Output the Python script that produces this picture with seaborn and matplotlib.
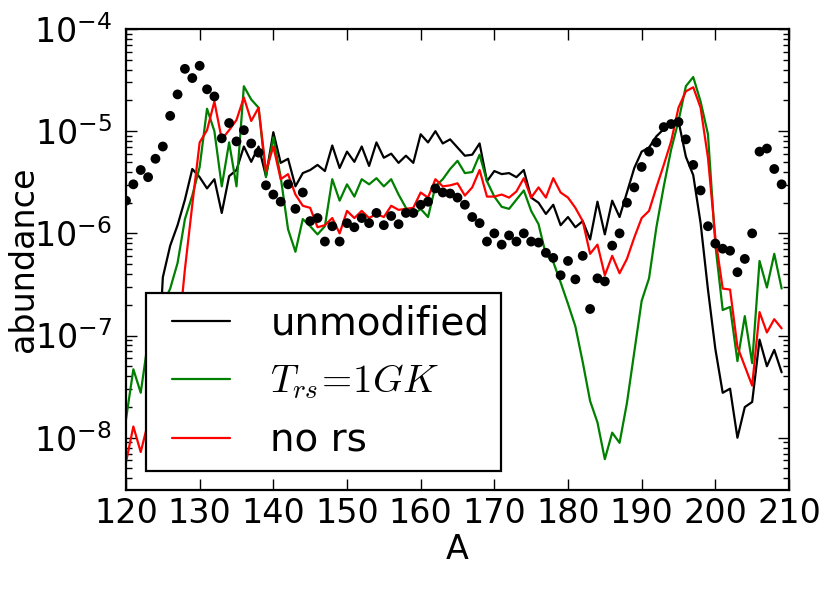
import numpy as np
import pandas as pd
import seaborn as sns
import matplotlib
matplotlib.use("Agg")
import matplotlib.pyplot as plt

# mass number A on the x axis
mass_number = np.arange(120, 210)

# log10 of the abundances (A = 120 ... 209)
log_solar = [
    -5.68, -5.52, -5.38, -5.45, -5.27, -5.15, -4.85, -4.64, -4.39, -4.48,
    -4.36, -4.59, -4.66, -5.07, -4.92, -5.10, -4.99, -5.12, -5.21, -5.53,
    -5.62, -5.69, -5.52, -5.76, -5.60, -5.88, -5.85, -6.08, -5.93, -6.08,
    -5.90, -5.94, -5.85, -5.90, -5.80, -5.92, -5.83, -5.91, -5.80, -5.80,
    -5.72, -5.69, -5.56, -5.60, -5.61, -5.65, -5.72, -5.84, -5.90, -6.08,
    -6.00, -6.11, -6.02, -6.08, -6.00, -6.08, -6.09, -6.19, -6.24, -6.41,
    -6.27, -6.45, -6.22, -6.74, -6.44, -6.47, -6.12, -6.00, -5.70, -5.55,
    -5.35, -5.20, -5.11, -4.96, -4.93, -4.91, -5.08, -5.33, -5.58, -5.93,
    -6.10, -6.15, -6.17, -6.38, -6.25, -6.00, -5.20, -5.17, -5.37, -5.52,
]

# the unmodified run has no abundance (zero) below A = 124
log_unmodified = [
    np.nan, np.nan, np.nan, np.nan, -7.80, -6.43, -6.12, -5.92, -5.67, -5.37,
    -5.45, -5.56, -5.47, -5.80, -5.44, -5.38, -5.15, -5.30, -5.15, -5.44,
    -5.01, -5.31, -5.27, -5.54, -5.41, -5.38, -5.33, -5.39, -5.14, -5.36,
    -5.20, -5.30, -5.15, -5.34, -5.11, -5.26, -5.22, -5.31, -5.24, -5.31,
    -5.03, -5.11, -5.00, -5.12, -5.08, -5.16, -5.24, -5.23, -5.12, -5.49,
    -5.39, -5.42, -5.41, -5.45, -5.38, -5.65, -5.70, -5.81, -5.72, -5.92,
    -5.84, -5.94, -5.88, -6.06, -5.69, -6.01, -5.68, -5.84, -5.60, -5.36,
    -5.20, -5.16, -5.05, -4.98, -4.93, -4.90, -5.25, -5.43, -5.90, -6.55,
    -7.13, -7.56, -7.52, -8.00, -7.70, -7.65, -7.04, -7.30, -7.14, -7.36,
]

log_trs_1gk = [
    -7.82, -7.33, -7.56, -7.05, -6.85, -6.70, -6.54, -6.29, -5.86, -5.63,
    -5.35, -4.78, -5.00, -5.54, -5.11, -5.54, -4.56, -4.69, -4.77, -5.45,
    -5.06, -5.45, -5.96, -6.18, -5.86, -5.93, -6.01, -5.93, -5.47, -5.68,
    -5.52, -5.64, -5.47, -5.52, -5.46, -5.54, -5.47, -5.62, -5.75, -5.82,
    -5.76, -5.84, -5.54, -5.47, -5.37, -5.29, -5.41, -5.40, -5.23, -5.49,
    -5.64, -5.74, -5.76, -5.67, -5.58, -5.78, -5.91, -6.21, -6.28, -6.48,
    -6.69, -6.91, -7.26, -7.64, -7.85, -8.21, -7.95, -8.05, -7.66, -7.16,
    -6.66, -6.44, -5.94, -5.54, -5.18, -4.90, -4.56, -4.47, -4.71, -5.03,
    -6.11, -6.75, -6.72, -7.25, -6.81, -7.27, -6.27, -6.53, -6.20, -6.54,
]

log_no_rs = [
    -8.24, -7.89, -8.14, -7.85, -7.75, -7.60, -7.40, -7.08, -6.35, -5.72,
    -5.11, -4.99, -4.71, -5.08, -4.99, -4.89, -4.67, -4.90, -4.77, -5.39,
    -5.15, -5.47, -5.42, -5.62, -5.73, -5.75, -5.94, -5.92, -5.85, -6.00,
    -5.78, -5.85, -5.78, -5.85, -5.81, -5.84, -5.73, -5.77, -5.76, -5.75,
    -5.60, -5.65, -5.47, -5.54, -5.53, -5.51, -5.63, -5.55, -5.38, -5.64,
    -5.64, -5.62, -5.65, -5.59, -5.46, -5.65, -5.55, -5.65, -5.46, -5.60,
    -5.65, -5.75, -5.88, -6.20, -6.11, -6.41, -6.22, -6.39, -6.25, -6.04,
    -5.85, -5.78, -5.55, -5.33, -5.10, -4.77, -4.61, -4.57, -4.77, -5.26,
    -6.04, -6.54, -6.55, -7.11, -7.30, -7.49, -6.77, -6.97, -6.84, -6.93,
]

series_labels = ['unmodified', r'$T_{rs}\!=\!1GK$', 'no rs']
series_colors = ['black', 'green', 'red']

abund_df = pd.DataFrame({
    'A': mass_number,
    'solar': np.power(10.0, log_solar),
    'unmodified': np.power(10.0, log_unmodified),
    'trs': np.power(10.0, log_trs_1gk),
    'nors': np.power(10.0, log_no_rs),
})

sns.set_style("ticks")
plt.rcParams['font.family'] = ['DejaVu Sans']
plt.rcParams['mathtext.fontset'] = 'cm'
plt.rcParams['axes.unicode_minus'] = False
plt.rcParams['text.color'] = 'black'
plt.rcParams['axes.labelcolor'] = 'black'
plt.rcParams['xtick.color'] = 'black'
plt.rcParams['ytick.color'] = 'black'
plt.rcParams['xtick.direction'] = 'in'
plt.rcParams['ytick.direction'] = 'in'
plt.rcParams['xtick.top'] = True
plt.rcParams['ytick.right'] = True

fig, ax = plt.subplots(figsize=(8.3, 5.92), dpi=100)
fig.subplots_adjust(left=0.1518, right=0.9506, top=0.951, bottom=0.1723)

for col, lab, colr in zip(['unmodified', 'trs', 'nors'], series_labels, series_colors):
    sns.lineplot(data=abund_df, x='A', y=col, color=colr, lw=1.6, label=lab, ax=ax)

sns.scatterplot(data=abund_df, x='A', y='solar', color='black', s=50,
                edgecolor='none', zorder=3, legend=False, ax=ax)

ax.set_yscale('log')
ax.set_xlim(120, 210)
ax.set_ylim(3.08e-9, 1e-4)
ax.set_xticks(np.arange(120, 211, 10))
ax.set_xlabel('A', fontsize=24, labelpad=2)
ax.set_ylabel('abundance', fontsize=24)
ax.yaxis.set_label_coords(-0.13, 0.5)

ax.tick_params(which='major', length=8, width=1, labelsize=24)
ax.tick_params(which='minor', length=4, width=1)
ax.tick_params(axis='x', pad=5)
ax.tick_params(axis='y', pad=10)
for sp in ax.spines.values():
    sp.set_linewidth(1.6)
    sp.set_color('black')

handles, labels = ax.get_legend_handles_labels()
leg = ax.legend(handles, labels, loc='lower left',
                bbox_to_anchor=(20 / 663, 19 / 461), borderaxespad=0,
                fontsize=28, handlelength=1.85, handletextpad=1.05,
                borderpad=0.3, labelspacing=0.52, fancybox=False,
                framealpha=1, edgecolor='black')
leg.get_frame().set_linewidth(1.6)
# start the short legend lines a little in from the frame, as in the original
for ln in leg.get_lines():
    xd = np.asarray(ln.get_xdata(), dtype=float)
    ln.set_xdata(np.linspace(xd[0] + 10.5, xd[-1], len(xd)))

fig.savefig('out.png', dpi=100)
